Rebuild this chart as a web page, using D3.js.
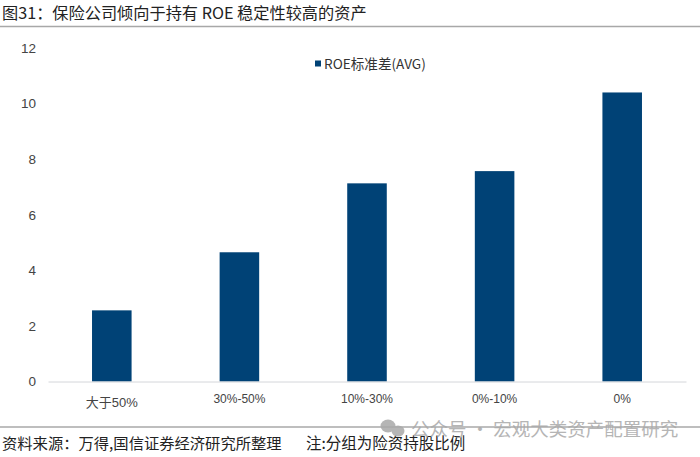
<!DOCTYPE html>
<html><head><meta charset="utf-8">
<script src="https://cdn.jsdelivr.net/npm/d3@7"></script>
<style>html,body{margin:0;padding:0;background:#fff}svg{display:block}</style></head>
<body><div id="c"></div>
<script>
const categories=["大于50%","30%-50%","10%-30%","0%-10%","0%"];
const values=[2.56,4.65,7.13,7.57,10.4];
const yTicks=[0,2,4,6,8,10,12];
const titleText="图31：保险公司倾向于持有 ROE 稳定性较高的资产";
const sourceText="资料来源：万得,国信证券经济研究所整理";
const noteText="注:分组为险资持股比例";
const legendText="ROE标准差(AVG)";
const watermark="公众号 · 宏观大类资产配置研究";
const cjk='"Noto Sans CJK SC","Liberation Sans",sans-serif';
const latinFirst='"Liberation Sans","Noto Sans CJK SC",sans-serif';
const W=700,H=457;
const svg=d3.select("#c").append("svg").attr("width",W).attr("height",H).attr("viewBox",[0,0,W,H]);
const x=d3.scaleBand().domain(categories).range([48,686]).paddingInner(0.69).paddingOuter(0.345);
const y=d3.scaleLinear().domain([0,12]).range([381.5,48]);
svg.append("text").attr("x",2).attr("y",19).attr("font-family",cjk).attr("font-size",16.2).attr("fill","#222").text(titleText);
svg.append("line").attr("x1",0).attr("x2",700).attr("y1",26.5).attr("y2",26.5).attr("stroke","#a8a8a8").attr("stroke-width",1.6);
svg.append("g").selectAll("rect").data(values).join("rect")
 .attr("x",(d,i)=>x(categories[i])).attr("width",x.bandwidth())
 .attr("y",d=>y(d)).attr("height",d=>y(0)-y(d)).attr("fill","#004276");
const gx=svg.append("g").attr("transform",`translate(0,${y(0)})`)
 .call(d3.axisBottom(x).tickSize(0).tickPadding(13));
gx.select(".domain").attr("stroke","#d4d6da").attr("stroke-width",1);
gx.selectAll("text").attr("font-family",latinFirst).attr("font-size",12).attr("fill","#444")
 .filter((d,i)=>i===0).attr("font-size",13).attr("transform","translate(0,3)");
const gy=svg.append("g").attr("transform","translate(38,0)")
 .call(d3.axisLeft(y).tickValues(yTicks).tickSize(0).tickPadding(2));
gy.select(".domain").remove();
gy.selectAll("text").attr("font-family",'"Liberation Sans",sans-serif').attr("font-size",13.5).attr("fill","#444");
svg.append("rect").attr("x",315).attr("y",60.5).attr("width",6).attr("height",6).attr("fill","#004276");
svg.append("text").attr("x",324).attr("y",69).attr("font-family",cjk).attr("font-size",13.6).attr("fill","#333").text(legendText);
svg.append("line").attr("x1",0).attr("x2",700).attr("y1",427).attr("y2",427).attr("stroke","#a8a8a8").attr("stroke-width",1.6);
svg.append("text").attr("x",2).attr("y",449).attr("font-family",cjk).attr("font-size",15.3).attr("fill","#222").text(sourceText);
svg.append("text").attr("x",306).attr("y",449).attr("font-family",cjk).attr("font-size",15.5).attr("fill","#222").text(noteText);
const wm=svg.append("g").attr("fill","#a9a9a9").attr("opacity",0.85);
wm.append("ellipse").attr("cx",388).attr("cy",426).attr("rx",7.5).attr("ry",6.5);
wm.append("ellipse").attr("cx",398).attr("cy",431).attr("rx",6.5).attr("ry",5.5);
svg.append("text").attr("x",411).attr("y",436).attr("font-family",cjk).attr("font-size",18.5).attr("fill","#a9a9a9").attr("opacity",0.85).text(watermark);
</script></body></html>
